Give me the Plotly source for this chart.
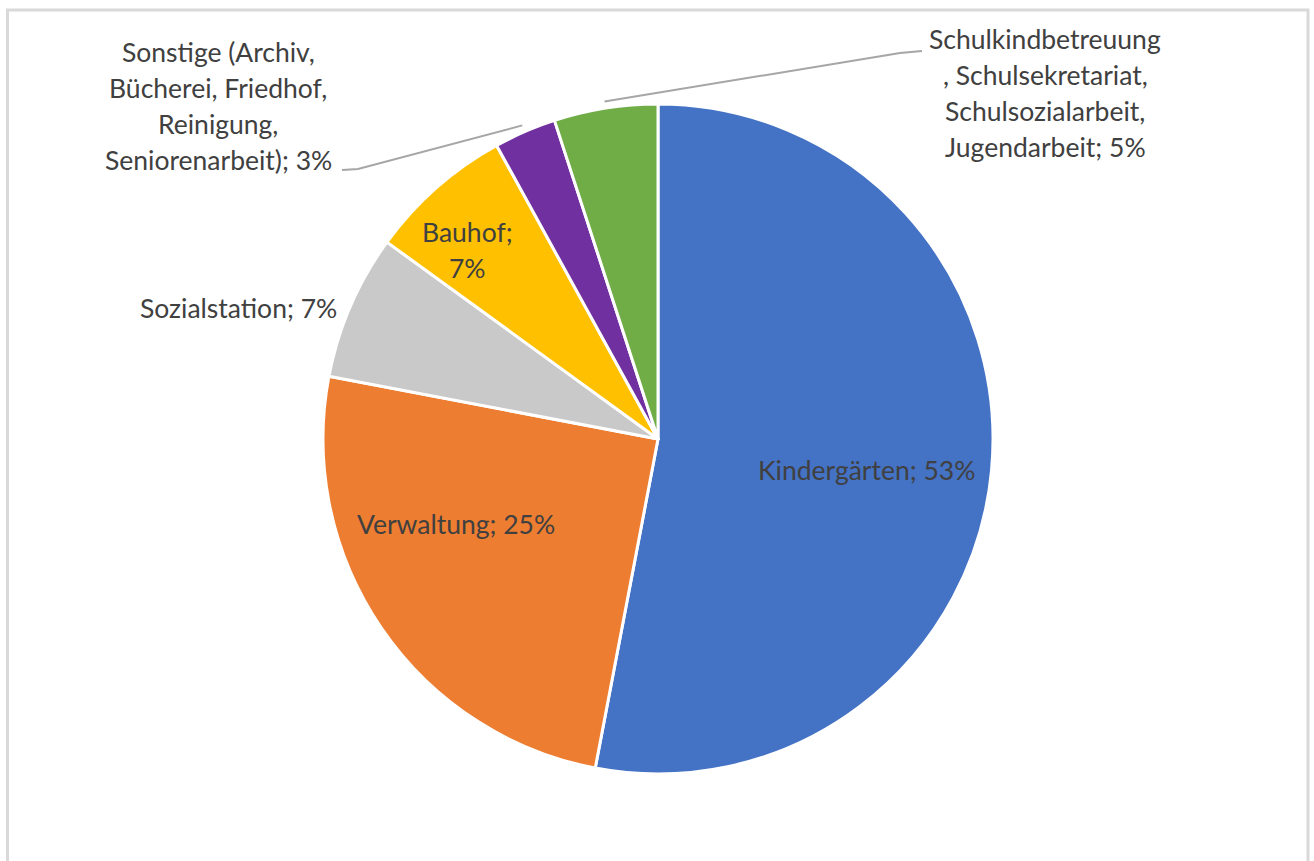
import math
import plotly.graph_objects as go

# Personalkosten nach Bereichen (Anteile in %)
bereiche = [
    "Kindergärten",
    "Verwaltung",
    "Sozialstation",
    "Bauhof",
    "Sonstige (Archiv, Bücherei, Friedhof, Reinigung, Seniorenarbeit)",
    "Schulkindbetreuung, Schulsekretariat, Schulsozialarbeit, Jugendarbeit",
]
anteile = [53, 25, 7, 7, 3, 5]
farben = ["#4472C4", "#ED7D31", "#C9C9C9", "#FFC000", "#7030A0", "#70AD47"]

# Beschriftungszeilen je Segment
label_zeilen = [
    ["Kindergärten; 53%"],
    ["Verwaltung; 25%"],
    ["Sozialstation; 7%"],
    ["Bauhof;", "7%"],
    ["Sonstige (Archiv,", "Bücherei, Friedhof,", "Reinigung,", "Seniorenarbeit); 3%"],
    ["Schulkindbetreuung", ", Schulsekretariat,", "Schulsozialarbeit,", "Jugendarbeit; 5%"],
]

W, H = 1314, 861
CX, CY, R = 658, 439, 335
FONT = "Lato"
FONT_SIZE = 26.5
TEXT_COLOR = "#404040"
LINE_H = 36


def px(x):
    return x / W


def py(y):
    return 1 - y / H


fig = go.Figure(
    go.Pie(
        labels=bereiche,
        values=anteile,
        sort=False,
        direction="clockwise",
        rotation=0,
        marker=dict(colors=farben, line=dict(color="white", width=3)),
        textinfo="none",
        hoverinfo="label+percent",
        domain=dict(x=[px(CX - R), px(CX + R)], y=[py(CY + R), py(CY - R)]),
    )
)

# Winkel (im Uhrzeigersinn ab 12 Uhr) der Segmentmitten
total = sum(anteile)
mitten = []
acc = 0
for v in anteile:
    mitten.append((acc + v / 2) / total * 360)
    acc += v


def polar(angle_deg, r):
    a = math.radians(angle_deg)
    return CX + r * math.sin(a), CY - r * math.cos(a)


annotations = []


def add_lines(lines, x, y_first, xanchor="center"):
    for i, t in enumerate(lines):
        annotations.append(
            dict(
                text=t, x=px(x), y=py(y_first + i * LINE_H), xref="paper", yref="paper",
                xanchor=xanchor, yanchor="middle", showarrow=False,
                font=dict(family=FONT, size=FONT_SIZE, color=TEXT_COLOR),
            )
        )


# Innenbeschriftungen: Richtung und Abstand relativ zur Segmentmitte
inner = {0: (3.0, 0.63), 1: (11.5, 0.655), 3: (-3.8, 0.80)}
for idx, (dang, rf) in inner.items():
    x, y = polar(mitten[idx] + dang, R * rf)
    n = len(label_zeilen[idx])
    add_lines(label_zeilen[idx], x, y - (n - 1) * LINE_H / 2)

# Außenbeschriftungen
add_lines(label_zeilen[2], 339, 308, xanchor="right")
add_lines(label_zeilen[4], 218, 52)
add_lines(label_zeilen[5], 1045, 39)

# Führungslinien von den Segmenten zu den Außenbeschriftungen
shapes = []
x4, y4 = polar(mitten[4], R * 1.02)
x5, y5 = polar(mitten[5], R * 1.02)
for pts in ([(x4, y4), (358, 169), (342, 170)], [(x5, y5), (900, 53), (922, 51)]):
    d = "M " + " L ".join(f"{px(a)},{py(b)}" for a, b in pts)
    shapes.append(dict(type="path", path=d, xref="paper", yref="paper",
                       line=dict(color="#A6A6A6", width=2)))

# Diagrammrahmen
shapes.append(dict(type="rect", xref="paper", yref="paper",
                   x0=px(7.5), x1=px(1308), y0=py(880), y1=py(10),
                   line=dict(color="#D9D9D9", width=3), fillcolor="rgba(0,0,0,0)"))

fig.update_layout(
    width=W, height=H,
    margin=dict(l=0, r=0, t=0, b=0),
    paper_bgcolor="white",
    showlegend=False,
    annotations=annotations,
    shapes=shapes,
    font=dict(family=FONT),
)

fig.write_html("out.html")
